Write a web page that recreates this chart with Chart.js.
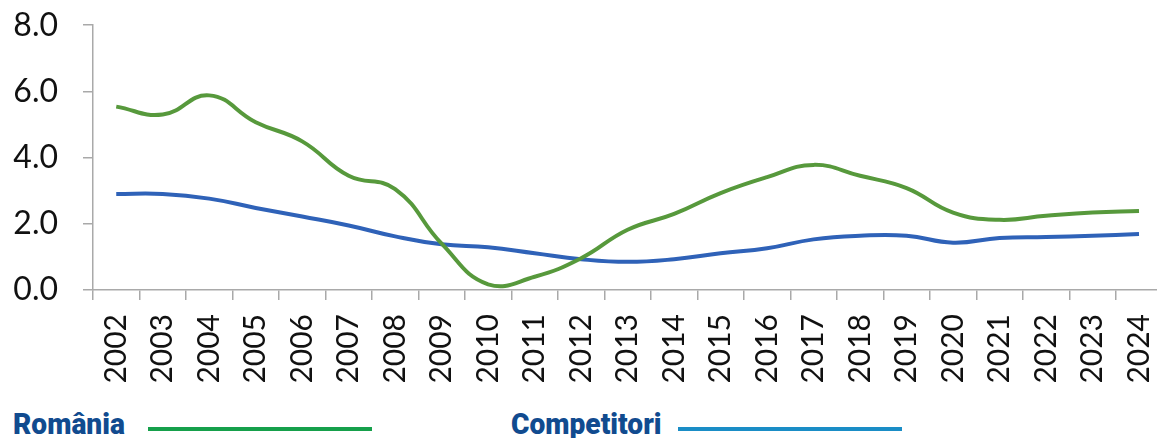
<!DOCTYPE html>
<html>
<head>
<meta charset="utf-8">
<script src="https://cdn.jsdelivr.net/npm/chart.js@4"></script>
<style>
  html, body { margin: 0; padding: 0; background: #fff; overflow: hidden; }
  #wrap { position: relative; top: -19px; width: 1189px; height: 419px; }
  .legend { position: absolute; top: 410px; font-family: Roboto, sans-serif; font-weight: 900;
            font-size: 29px; color: #114b8f; line-height: 29px; white-space: nowrap;
            transform: scaleX(0.97); transform-origin: left top; }
  .swatch { position: absolute; top: 427px; height: 4px; width: 224px; }
</style>
</head>
<body>
<div id="wrap"><canvas id="chart"></canvas></div>
<div class="legend" style="left:13px;">România</div>
<div class="swatch" style="left:148px; background:#16a04b;"></div>
<div class="legend" style="left:511px;">Competitori</div>
<div class="swatch" style="left:678px; background:#1a8dc6;"></div>
<script>
// Categorii (ani)
const years = ['2002', '2003', '2004', '2005', '2006', '2007', '2008', '2009', '2010', '2011', '2012',
  '2013', '2014', '2015', '2016', '2017', '2018', '2019', '2020', '2021', '2022', '2023', '2024'];

// Serii
const romania = [5.54, 5.30, 5.88, 5.07, 4.49, 3.45, 3.05, 1.40, 0.17, 0.40, 0.96, 1.82,
  2.30, 2.93, 3.41, 3.78, 3.45, 3.08, 2.34, 2.12, 2.24, 2.34, 2.39];
const competitori = [2.90, 2.90, 2.76, 2.48, 2.22, 1.95, 1.62, 1.38, 1.29, 1.11, 0.93, 0.85,
  0.93, 1.11, 1.26, 1.53, 1.64, 1.64, 1.43, 1.57, 1.60, 1.64, 1.69];

const yMin = 0;
const yMax = 8;
const yStep = 2;

const axisGrey = '#a9a9a9';

const ctx = document.getElementById('chart').getContext('2d');
const chart = new Chart(ctx, {
  type: 'line',
  data: {
    labels: years,
    datasets: [{
      label: 'România',
      data: romania,
      borderColor: '#57993c',
      borderWidth: 4,
      pointRadius: 0,
      tension: 0.45,
      fill: false
    }, {
      label: 'Competitori',
      data: competitori,
      borderColor: '#2f62b8',
      borderWidth: 4,
      pointRadius: 0,
      tension: 0.45,
      fill: false
    }]
  },
  options: {
    responsive: true,
    maintainAspectRatio: false,
    animation: false,
    layout: { padding: { top: 7, right: 0, left: 0, bottom: 0 } },
    plugins: {
      legend: { display: false },
      tooltip: { enabled: false }
    },
    scales: {
      x: {
        offset: true,
        grid: { offset: true, drawOnChartArea: false, color: axisGrey, tickLength: 10, lineWidth: 1.5 },
        border: { color: axisGrey, width: 1.5 },
        ticks: {
          minRotation: 90, maxRotation: 90, padding: 14,
          color: '#111', font: { family: 'Lato', size: 30 }
        },
        afterFit: (scale) => { scale.height = 110; }
      },
      y: {
        min: yMin,
        max: yMax,
        grid: { drawOnChartArea: false, color: axisGrey, tickLength: 10, lineWidth: 1.5 },
        border: { color: axisGrey, width: 1.5 },
        ticks: {
          stepSize: yStep, padding: 25,
          color: '#111', font: { family: 'Lato', size: 32 },
          callback: (v) => v.toFixed(1)
        },
        afterFit: (scale) => { scale.width = 93; }
      }
    }
  }
});
</script>
</body>
</html>
